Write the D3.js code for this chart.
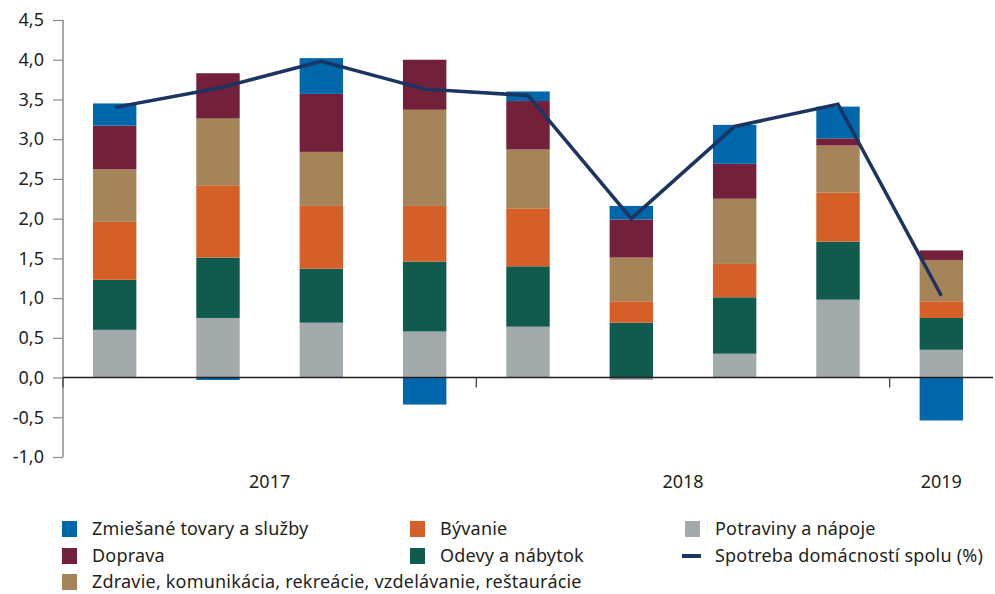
<!DOCTYPE html>
<html>
<head>
<meta charset="utf-8">
<script src="https://cdn.jsdelivr.net/npm/d3@7"></script>
<style>
  body { margin: 0; background: #fff; }
  text { font-family: "Noto Sans", "Open Sans", sans-serif; fill: #231f20; }
</style>
</head>
<body>
<div id="chart"></div>
<script>
// quarters 2017 Q1 .. 2019 Q1
const quarters = ["2017Q1", "2017Q2", "2017Q3", "2017Q4", "2018Q1", "2018Q2", "2018Q3", "2018Q4", "2019Q1"];
const years = ["2017", "2018", "2019"];

// contributions in p.p.
const potraviny = [0.60, 0.75, 0.69, 0.58, 0.64, -0.03, 0.30, 0.98, 0.35];
const odevy     = [0.63, 0.76, 0.68, 0.88, 0.76, 0.69, 0.71, 0.73, 0.40];
const byvanie   = [0.73, 0.91, 0.79, 0.70, 0.73, 0.27, 0.42, 0.62, 0.21];
const zdravie   = [0.66, 0.84, 0.68, 1.21, 0.74, 0.55, 0.82, 0.59, 0.52];
const doprava   = [0.55, 0.57, 0.73, 0.63, 0.61, 0.48, 0.44, 0.09, 0.12];
const zmiesane  = [0.28, -0.03, 0.45, -0.34, 0.12, 0.17, 0.49, 0.40, -0.54];
const spotreba  = [3.40, 3.64, 3.98, 3.63, 3.55, 2.00, 3.16, 3.44, 1.03];

const yTicks = [-1, -0.5, 0, 0.5, 1, 1.5, 2, 2.5, 3, 3.5, 4, 4.5];

const seriesKeys = ["potraviny", "odevy", "byvanie", "zdravie", "doprava", "zmiesane"];
const seriesValues = { potraviny, odevy, byvanie, zdravie, doprava, zmiesane };
const colors = {
    potraviny: "#a3aaac",
    odevy: "#105a4e",
    byvanie: "#d46027",
    zdravie: "#a58459",
    doprava: "#73213b",
    zmiesane: "#0067ab"
};
const lineColor = "#1b3461";

const width = 995, height = 594;
const margin = { top: 20, right: 2, bottom: 137, left: 63 };

const svg = d3.select("#chart")
    .append("svg")
    .attr("width", width)
    .attr("height", height);

const locale = d3.formatLocale({ decimal: ",", thousands: " ", grouping: [3], currency: ["", " €"], minus: "-" });
const fmt = locale.format(".1f");

// scales
const x = d3.scaleBand()
    .domain(quarters)
    .range([margin.left, width - margin.right])
    .paddingInner(0.58)
    .paddingOuter(0.29);

const y = d3.scaleLinear()
    .domain([-1, 4.5])
    .range([height - margin.bottom, margin.top]);

// stacked data
const table = quarters.map((q, i) => {
    const row = { q };
    seriesKeys.forEach(k => row[k] = seriesValues[k][i]);
    return row;
});
const stacked = d3.stack()
    .keys(seriesKeys)
    .offset(d3.stackOffsetDiverging)(table);

svg.append("g")
    .selectAll("g")
    .data(stacked)
    .join("g")
    .attr("fill", d => colors[d.key])
    .selectAll("rect")
    .data(d => d)
    .join("rect")
    .attr("x", d => x(d.data.q))
    .attr("width", x.bandwidth())
    .attr("y", d => y(Math.max(d[0], d[1])))
    .attr("height", d => Math.abs(y(d[0]) - y(d[1])));

// y axis
const yAxis = svg.append("g")
    .attr("transform", `translate(${margin.left},0)`)
    .call(d3.axisLeft(y).tickValues(yTicks).tickFormat(fmt).tickSize(10).tickPadding(9));
yAxis.select(".domain").attr("stroke", "#8a8a8a").attr("stroke-width", 1.5)
    .attr("d", `M0,${y(4.5)}V${y(-1)}`);
yAxis.selectAll(".tick line").attr("stroke", "#8a8a8a").attr("stroke-width", 1.2);
yAxis.selectAll(".tick text").style("font-size", "18px").attr("fill", "#231f20");

// zero line
svg.append("line")
    .attr("x1", margin.left)
    .attr("x2", width - margin.right)
    .attr("y1", y(0))
    .attr("y2", y(0))
    .attr("stroke", "#231f20")
    .attr("stroke-width", 1.5);

// year separators and labels
const step = x.step();
years.forEach(yr => {
    const qs = quarters.filter(q => q.startsWith(yr));
    const start = x(qs[0]) - step * x.paddingInner() / 2;
    svg.append("line")
        .attr("x1", start).attr("x2", start)
        .attr("y1", y(0)).attr("y2", y(0) + 10)
        .attr("stroke", "#444")
        .attr("stroke-width", 1.3);
    const cx = d3.mean(qs, q => x(q) + x.bandwidth() / 2);
    svg.append("text")
        .attr("x", cx)
        .attr("y", 488)
        .attr("text-anchor", "middle")
        .style("font-size", "18px")
        .text(yr);
});

// total line
const line = d3.line()
    .x((d, i) => x(quarters[i]) + x.bandwidth() / 2)
    .y(d => y(d));
svg.append("path")
    .datum(spotreba)
    .attr("d", line)
    .attr("fill", "none")
    .attr("stroke", lineColor)
    .attr("stroke-width", 3.5)
    .attr("stroke-linejoin", "miter");

// legend
const legendItems = [
    { label: "Zmiešané tovary a služby", key: "zmiesane", col: 0, row: 0 },
    { label: "Bývanie", key: "byvanie", col: 1, row: 0 },
    { label: "Potraviny a nápoje", key: "potraviny", col: 2, row: 0 },
    { label: "Doprava", key: "doprava", col: 0, row: 1 },
    { label: "Odevy a nábytok", key: "odevy", col: 1, row: 1 },
    { label: "Spotreba domácností spolu (%)", key: "line", col: 2, row: 1 },
    { label: "Zdravie, komunikácia, rekreácie, vzdelávanie, reštaurácie", key: "zdravie", col: 0, row: 2 }
];
const colX = [62, 410, 685];
const rowY = [529, 556, 582];

const legend = svg.append("g");
legendItems.forEach(it => {
    const g = legend.append("g")
        .attr("transform", `translate(${colX[it.col]},${rowY[it.row]})`);
    if (it.key === "line") {
        g.append("line")
            .attr("x1", -3).attr("x2", 16)
            .attr("y1", 0).attr("y2", 0)
            .attr("stroke", lineColor)
            .attr("stroke-width", 4);
    } else {
        g.append("rect")
            .attr("x", 0).attr("y", -8)
            .attr("width", 15).attr("height", 16)
            .attr("fill", colors[it.key]);
    }
    g.append("text")
        .attr("x", 30)
        .attr("y", 0)
        .attr("dy", "0.35em")
        .style("font-size", "18px")
        .style("letter-spacing", "0.2px")
        .text(it.label);
});
</script>
</body>
</html>
